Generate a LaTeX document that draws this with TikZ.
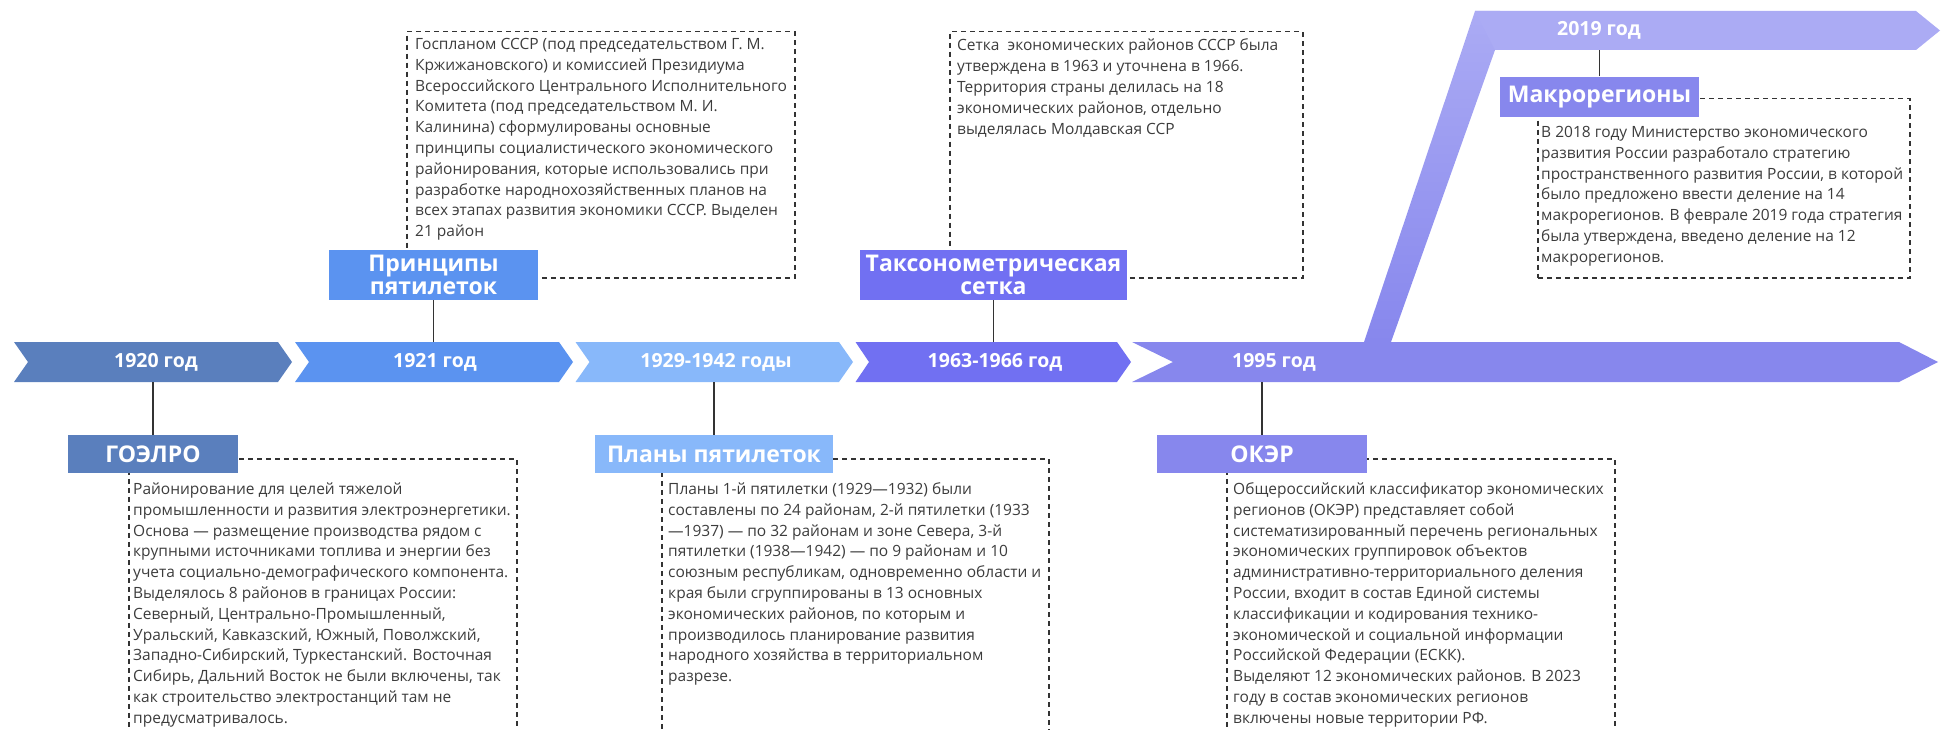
\documentclass[tikz,border=0pt]{standalone}
\usepackage{fontspec}
\setmainfont{Open Sans}
\definecolor{cA}{HTML}{5A7FBD}
\definecolor{cB}{HTML}{5B93F0}
\definecolor{cC}{HTML}{88B8FA}
\definecolor{cD}{HTML}{7170F2}
\definecolor{cE}{HTML}{8787ED}
\definecolor{cF}{HTML}{ABABF4}
\definecolor{txt}{HTML}{3C3C3C}
\definecolor{ln}{HTML}{333333}
\tikzset{
  yearlbl/.style={inner sep=0, minimum height=40pt, text=white, font=\fontsize{19.5}{22}\bfseries\selectfont},
  titlebox/.style={inner sep=0, text=white, align=center, font=\fontsize{23}{23.5}\bfseries\selectfont},
  dbox/.style={draw=ln, dash pattern=on 5pt off 4pt, line width=1.5pt, inner sep=0, anchor=north west},
  body/.style={inner sep=0, anchor=base west, align=left, text=txt, font=\fontsize{15.5}{20.8}\selectfont},
  conn/.style={draw=ln, line width=1.5pt}
}
\begin{document}
\begin{tikzpicture}[x=1pt,y=-1pt]
\useasboundingbox (0,0) rectangle (1941,730);
\clip (0,0) rectangle (1941,730);
% timeline arrows
\fill[cA] (14,342) -- (278,342) -- (292,362) -- (278,382) -- (14,382) -- (28,362) -- cycle;
\fill[cB] (295,342) -- (559,342) -- (573,362) -- (559,382) -- (295,382) -- (309,362) -- cycle;
\fill[cC] (575.5,342) -- (839,342) -- (853,362) -- (839,382) -- (575.5,382) -- (589.5,362) -- cycle;
\fill[cD] (855.5,342) -- (1117,342) -- (1131,362) -- (1117,382) -- (855.5,382) -- (869,362) -- cycle;
\shade[top color=cF, bottom color=cE] (1364,342) -- (1475,11) -- (1500,11) -- (1495,50) -- (1391,342) -- cycle;
\fill[cF] (1475,11) -- (1916,11) -- (1940,30.5) -- (1916,50) -- (1495,50) -- cycle;
\fill[cE] (1132,342) -- (1899,342) -- (1938,362) -- (1899,382) -- (1132,382) -- (1173,362) -- cycle;
% year labels
\node[yearlbl] (a1) at (156,362) {1920 год};
\node[yearlbl] (a2) at (435,362) {1921 год};
\node[yearlbl] (a3) at (716,362) {1929-1942 годы};
\node[yearlbl] (a4) at (995,362) {1963-1966 год};
\node[yearlbl] (a5) at (1274,362) {1995 год};
\node[yearlbl, minimum height=39pt] (a6) at (1599,30.5) {2019 год};
% dashed boxes
\node[dbox, minimum width=388pt, minimum height=302pt] (d1) at (128,458) {};
\node[dbox, minimum width=388pt, minimum height=246pt] (d2) at (406,31) {};
\node[dbox, minimum width=387pt, minimum height=302pt] (d3) at (661,458) {};
\node[dbox, minimum width=353pt, minimum height=246pt] (d4) at (949,31) {};
\node[dbox, minimum width=388pt, minimum height=302pt] (d5) at (1226,458) {};
\node[dbox, minimum width=372pt, minimum height=179pt] (d6) at (1537,98) {};
% title boxes
\node[titlebox, fill=cA, minimum width=170pt, minimum height=38pt] (t1) at (153,454) {ГОЭЛРО};
\node[titlebox, fill=cB, minimum width=209pt, minimum height=50pt] (t2) at (433.5,275) {Принципы\\пятилеток};
\node[titlebox, fill=cC, minimum width=238pt, minimum height=38pt] (t3) at (714,454) {Планы пятилеток};
\node[titlebox, fill=cD, minimum width=267pt, minimum height=50pt] (t4) at (993.5,275) {Таксонометрическая\\сетка};
\node[titlebox, fill=cE, minimum width=210pt, minimum height=38pt] (t5) at (1262,454) {ОКЭР};
\node[titlebox, fill=cE, minimum width=199pt, minimum height=40pt] (t6) at (1599.5,96.7) {Макрорегионы};
% connectors
\draw[conn] (t1.north) -- (t1.north |- a1.south);
\draw[conn] (t2.south) -- (t2.south |- a2.north);
\draw[conn] (t3.north) -- (t3.north |- a3.south);
\draw[conn] (t4.south) -- (t4.south |- a4.north);
\draw[conn] (t5.north) -- (t5.north |- a5.south);
\draw[conn] (t6.north) -- (t6.north |- a6.south);
% body texts (anchor = baseline of last line)
\node[body] (b1) at (133,723.3) {Районирование для целей тяжелой\\
промышленности и развития электроэнергетики.\\
Основа — размещение производства рядом с\\
крупными источниками топлива и энергии без\\
учета социально-демографического компонента.\\
Выделялось 8 районов в границах России:\\
Северный, Центрально-Промышленный,\\
Уральский, Кавказский, Южный, Поволжский,\\
Западно-Сибирский, Туркестанский. Восточная\\
Сибирь, Дальний Восток не были включены, так\\
как строительство электростанций там не\\
предусматривалось.};
\node[body] (b2) at (415,236.7) {Госпланом СССР (под председательством Г. М.\\
Кржижановского) и комиссией Президиума\\
Всероссийского Центрального Исполнительного\\
Комитета (под председательством М. И.\\
Калинина) сформулированы основные\\
принципы социалистического экономического\\
районирования, которые использовались при\\
разработке народнохозяйственных планов на\\
всех этапах развития экономики СССР. Выделен\\
21 район};
\node[body] (b3) at (668,681.7) {Планы 1-й пятилетки (1929—1932) были\\
составлены по 24 районам, 2-й пятилетки (1933\\
—1937) — по 32 районам и зоне Севера, 3-й\\
пятилетки (1938—1942) — по 9 районам и 10\\
союзным республикам, одновременно области и\\
края были сгруппированы в 13 основных\\
экономических районов, по которым и\\
производилось планирование развития\\
народного хозяйства в территориальном\\
разрезе.};
\node[body] (b4) at (957,134.2) {Сетка\ \ экономических районов СССР была\\
утверждена в 1963 и уточнена в 1966.\\
Территория страны делилась на 18\\
экономических районов, отдельно\\
выделялась Молдавская ССР};
\node[body] (b5) at (1233,723.3) {Общероссийский классификатор экономических\\
регионов (ОКЭР) представляет собой\\
систематизированный перечень региональных\\
экономических группировок объектов\\
административно-территориального деления\\
России, входит в состав Единой системы\\
классификации и кодирования технико-\\
экономической и социальной информации\\
Российской Федерации (ЕСКК).\\
Выделяют 12 экономических районов. В 2023\\
году в состав экономических регионов\\
включены новые территории РФ.};
\node[body] (b6) at (1541,262.3) {В 2018 году Министерство экономического\\
развития России разработало стратегию\\
пространственного развития России, в которой\\
было предложено ввести деление на 14\\
макрорегионов. В феврале 2019 года стратегия\\
была утверждена, введено деление на 12\\
макрорегионов.};
\end{tikzpicture}
\end{document}
